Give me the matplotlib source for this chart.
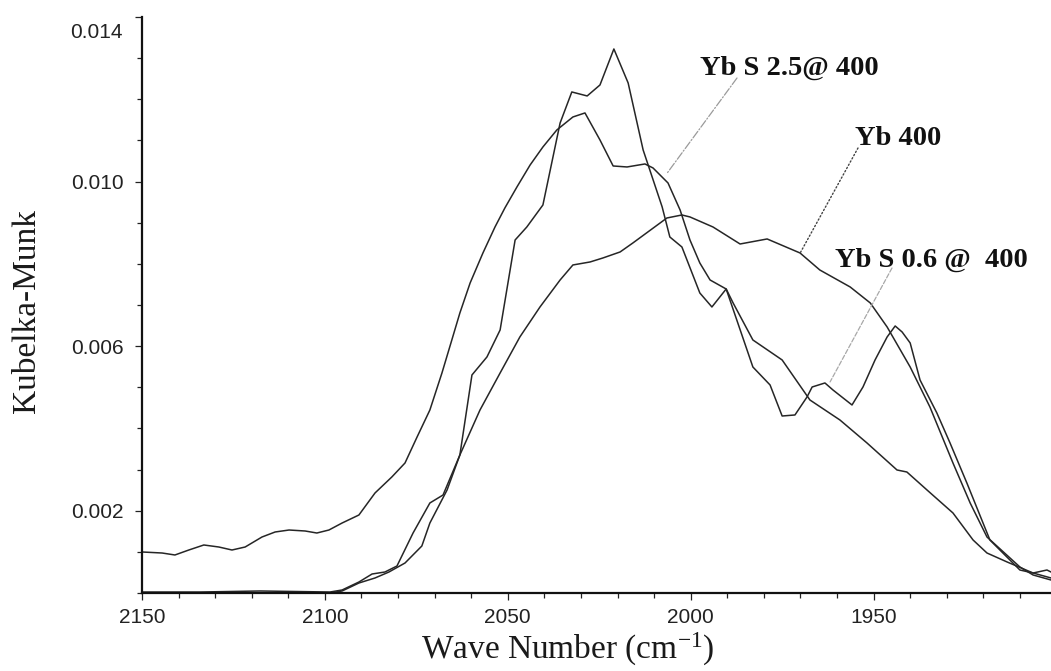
import matplotlib
matplotlib.use("Agg")
import matplotlib.pyplot as plt
from matplotlib.ticker import MultipleLocator, FixedLocator

plt.rcParams['mathtext.fontset'] = 'custom'
plt.rcParams['mathtext.rm'] = 'Liberation Serif'
plt.rcParams['mathtext.it'] = 'Liberation Serif:italic'

# ---------------- data (wavenumber cm^-1, Kubelka-Munk) ----------------
s25_x = [2150.0, 2144.5, 2141.0, 2137.2, 2133.1, 2129.0, 2125.4, 2121.8, 2117.2, 2113.6,
         2109.8, 2105.4, 2102.2, 2098.9, 2095.3, 2090.7, 2086.3, 2081.7, 2078.1, 2074.8,
         2071.3, 2068.0, 2065.3, 2063.1, 2060.3, 2056.8, 2053.5, 2050.8, 2047.5, 2043.9,
         2040.4, 2036.6, 2032.2, 2028.9, 2024.8, 2021.2, 2017.4, 2012.5, 2010.3, 2006.2,
         2002.9, 2000.2, 1997.5, 1994.7, 1990.3, 1988.4, 1983.0, 1975.0, 1967.4, 1959.2,
         1951.8, 1943.6, 1940.9, 1935.4, 1928.3, 1922.8, 1919.0, 1913.5, 1906.4, 1901.5]
s25_y = [0.000997, 0.000972, 0.000924, 0.001045, 0.001167, 0.001118, 0.001045, 0.001118, 0.001361, 0.001483,
         0.001531, 0.001507, 0.001458, 0.001531, 0.001701, 0.001896, 0.002431, 0.002820, 0.003160, 0.003792,
         0.004448, 0.005348, 0.006150, 0.006806, 0.007535, 0.008264, 0.008896, 0.009358, 0.009869, 0.010403,
         0.010841, 0.011254, 0.011570, 0.011668, 0.011011, 0.010379, 0.010355, 0.010428, 0.010331, 0.009966,
         0.009310, 0.008580, 0.008021, 0.007608, 0.007389, 0.007049, 0.006150, 0.005664, 0.004691, 0.004205,
         0.003646, 0.002990, 0.002941, 0.002504, 0.001945, 0.001288, 0.000972, 0.000754, 0.000486, 0.000365]

s06_x = [2150.0, 2134.1, 2117.7, 2098.6, 2095.3, 2090.7, 2087.1, 2083.6, 2080.3, 2075.9,
         2071.3, 2067.7, 2063.1, 2059.8, 2055.7, 2052.1, 2048.0, 2044.8, 2040.4, 2035.7,
         2032.5, 2028.3, 2024.8, 2021.0, 2017.1, 2013.0, 2007.8, 2005.7, 2002.4, 1997.5,
         1994.2, 1990.3, 1983.0, 1978.3, 1975.0, 1971.5, 1968.2, 1966.8, 1963.3, 1961.1,
         1955.9, 1952.9, 1949.6, 1946.3, 1944.1, 1942.2, 1940.0, 1937.3, 1932.7, 1929.1,
         1924.5, 1918.2, 1910.0, 1906.4, 1902.6, 1901.5]
s06_y = [0.000024, 0.000024, 0.000049, 0.000024, 0.000073, 0.000267, 0.000462, 0.000510, 0.000656, 0.001458,
         0.002188, 0.002382, 0.003354, 0.005299, 0.005737, 0.006393, 0.008580, 0.008896, 0.009431, 0.011424,
         0.012178, 0.012081, 0.012348, 0.013223, 0.012397, 0.010768, 0.009383, 0.008653, 0.008410, 0.007292,
         0.006952, 0.007389, 0.005493, 0.005056, 0.004302, 0.004327, 0.004764, 0.005007, 0.005105, 0.004934,
         0.004570, 0.005007, 0.005664, 0.006223, 0.006490, 0.006344, 0.006077, 0.005177, 0.004375, 0.003646,
         0.002674, 0.001288, 0.000559, 0.000486, 0.000559, 0.000510]

yb_x = [2150.0, 2120.5, 2098.6, 2095.3, 2090.7, 2086.3, 2082.5, 2078.1, 2073.5, 2071.3,
        2066.6, 2063.1, 2057.6, 2052.1, 2046.7, 2041.2, 2035.7, 2032.2, 2027.5, 2024.0,
        2019.3, 2015.8, 2006.5, 2002.4, 2000.2, 1993.9, 1986.5, 1979.1, 1970.1, 1964.7,
        1956.4, 1950.9, 1946.3, 1940.0, 1934.6, 1928.3, 1923.6, 1919.0, 1910.0, 1906.4, 1901.5]
yb_y = [0.0, 0.0, 0.0, 0.000049, 0.000243, 0.000365, 0.000510, 0.000729, 0.001142, 0.001701,
        0.002504, 0.003354, 0.004448, 0.005348, 0.006223, 0.006952, 0.007608, 0.007973, 0.008046, 0.008143,
        0.008289, 0.008508, 0.009115, 0.009188, 0.009140, 0.008896, 0.008483, 0.008605, 0.008264, 0.007851,
        0.007438, 0.007049, 0.006466, 0.005493, 0.004521, 0.003160, 0.002188, 0.001361, 0.000632, 0.000438,
        0.000316]

x_major = [2150, 2100, 2050, 2000, 1950]
y_major = [0.002, 0.006, 0.010, 0.014]
y_labels = ['0.002', '0.006', '0.010', '']
labels = ['Yb S 2.5@ 400', 'Yb 400', 'Yb S 0.6 @  400']

# ---------------- figure ----------------
W, H = 1051, 671
fig = plt.figure(figsize=(W / 100, H / 100), dpi=100)
ax = fig.add_axes([142 / W, 1 - 593 / H, 909 / W, 576 / H])

line_kw = dict(color='#262626', lw=1.1)
ax.plot(s25_x, s25_y, **line_kw)
ax.plot(s06_x, s06_y, **line_kw)
ax.plot(yb_x, yb_y, **line_kw)

ax.set_xlim(2150, 1901.5)
ax.set_ylim(0, 0.014)

for s in ['top', 'right']:
    ax.spines[s].set_visible(False)
for s in ['left', 'bottom']:
    ax.spines[s].set_linewidth(1.6)
    ax.spines[s].set_color('#111111')

ax.xaxis.set_major_locator(FixedLocator(x_major))
ax.xaxis.set_minor_locator(MultipleLocator(10))
ax.set_yticks(y_major)
ax.set_yticklabels(y_labels)
ax.yaxis.set_minor_locator(MultipleLocator(0.001))

ax.tick_params(axis='both', which='major', direction='out', length=5, width=0.9,
               colors='#222222', labelsize=15)
ax.tick_params(axis='both', which='minor', direction='out', length=3.5, width=0.9,
               colors='#222222')
ax.tick_params(axis='y', which='major', pad=8.5)
ax.tick_params(axis='x', which='major', pad=5.8)
for lab in ax.get_xticklabels() + ax.get_yticklabels():
    lab.set_fontfamily('Liberation Sans')

# top y tick label, nudged down as in the original
ax.annotate('0.014', xy=(0, 0.014), xycoords=('axes fraction', 'data'),
            xytext=(-19, -15), textcoords='offset pixels', ha='right', va='center',
            fontfamily='Liberation Sans', fontsize=15, color='#222222')

# axis titles
fig.text(27 / W, 1 - 311 / H, 'Kubelka-Munk', rotation=90, ha='center', va='center',
         fontfamily='Liberation Serif', fontsize=24, color='#1a1a1a')
fig.text(568 / W, 1 - 659 / H, 'Wave Number (cm$^{\\mathrm{-1}}$)', ha='center', va='baseline',
         fontfamily='Liberation Serif', fontsize=24, color='#1a1a1a')

# labels with leader lines
lab_font = dict(fontfamily='Liberation Serif', fontweight='bold', fontsize=20.5, color='#111111')
ann = [
    (labels[0], (2006.4, 0.01021), (737, 78), (700, 75), dict(color='#9a9a9a', lw=0.9, ls='-.')),
    (labels[1], (1970.1, 0.00826), (858, 148), (855, 145), dict(color='#444444', lw=1.0, ls=':')),
    (labels[2], (1961.9, 0.00513), (892, 268), (835, 267), dict(color='#a8a8a8', lw=0.9, ls='--')),
]
for text, target, start, tpos, lkw in ann:
    ax.annotate('', xy=target, xycoords='data',
                xytext=(start[0] / W, 1 - start[1] / H), textcoords='figure fraction',
                arrowprops=dict(arrowstyle='-', shrinkA=0, shrinkB=0, **lkw))
    fig.text(tpos[0] / W, 1 - tpos[1] / H, text, ha='left', va='baseline', **lab_font)

fig.savefig('out.png', dpi=100)
